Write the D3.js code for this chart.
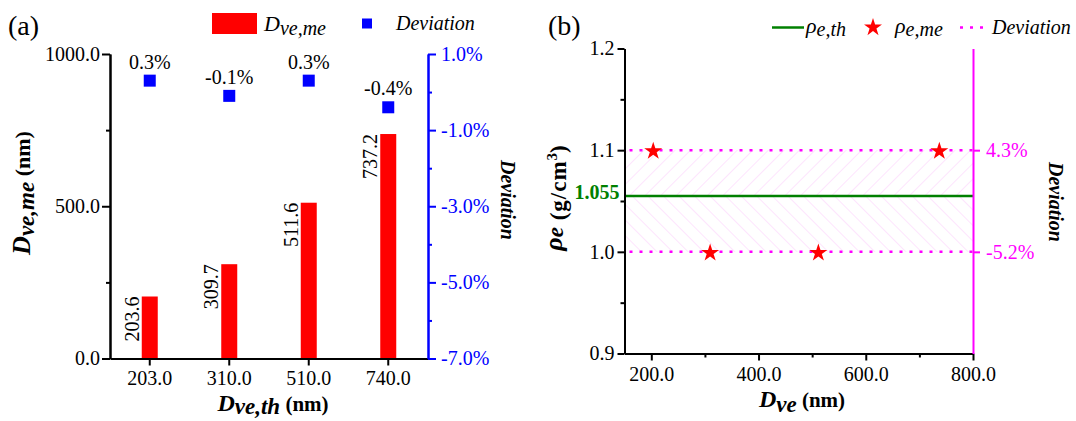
<!DOCTYPE html>
<html>
<head>
<meta charset="utf-8">
<script src="https://cdn.jsdelivr.net/npm/d3@7"></script>
<style>
  body { margin: 0; background: #fff; }
  svg text { font-family: "Liberation Serif", "Times New Roman", serif; }
</style>
</head>
<body>
<div id="chart"></div>
<script>
// panel (a)
const categories = ["203.0", "310.0", "510.0", "740.0"];
const dveMe = [203.6, 309.7, 511.6, 737.2];
const deviationA = [0.3, -0.1, 0.3, -0.4];
const leftTicksA = [0, 500, 1000];
const leftMinorA = [250, 750];
const rightTicksA = [1, -1, -3, -5, -7];
const rightMinorA = [0, -2, -4, -6];

// panel (b)
const dveB = [203.6, 309.7, 511.6, 737.2];
const rhoMe = [1.1, 1.0, 1.0, 1.1];
const rhoTh = 1.055;
const devLevels = [1.1, 1.0];
const devLabels = ["4.3%", "-5.2%"];
const xTicksB = [200, 400, 600, 800];
const xMinorB = [300, 500, 700];
const yTicksB = [0.9, 1.0, 1.1, 1.2];
const yMinorB = [0.95, 1.05, 1.15];

const W = 1076, H = 421;
const blue = "#0000ff", magenta = "#ff00ff", green = "#008000", red = "#ff0000";
const serif = '"Liberation Serif", "Times New Roman", serif';

const svg = d3.select("#chart").append("svg")
    .attr("width", W).attr("height", H);

function styleAxis(g, color) {
    g.selectAll("path").attr("stroke", color).attr("stroke-width", 2);
    g.selectAll("line").attr("stroke", color).attr("stroke-width", 2);
    g.selectAll("text").attr("font-size", 20).attr("fill", color)
        .style("font-family", serif);
}

// ---------- panel (a) ----------
const a = {left: 110, right: 428, top: 54, bottom: 358.5};

const xA = d3.scaleBand().domain(categories).range([a.left, a.right]);
const yA = d3.scaleLinear().domain([0, 1000]).range([a.bottom, a.top]);
const yDev = d3.scaleLinear().domain([-7, 1]).range([a.bottom, a.top]);

const gA = svg.append("g");

// bars
gA.selectAll("rect.bar")
    .data(dveMe)
    .enter()
    .append("rect")
    .attr("class", "bar")
    .attr("x", (d, i) => xA(categories[i]) + xA.bandwidth() / 2 - 8)
    .attr("width", 16)
    .attr("y", d => yA(d))
    .attr("height", d => yA(0) - yA(d))
    .attr("fill", red);

// bar value labels (rotated)
gA.selectAll("text.val")
    .data(dveMe)
    .enter()
    .append("text")
    .attr("class", "val")
    .attr("transform", (d, i) => "translate(" + (xA(categories[i]) + xA.bandwidth() / 2 - 11) + "," + yA(d) + ") rotate(-90)")
    .attr("text-anchor", "end")
    .attr("font-size", 20)
    .text(d => d.toFixed(1));

// deviation squares
gA.selectAll("rect.dev")
    .data(deviationA)
    .enter()
    .append("rect")
    .attr("class", "dev")
    .attr("x", (d, i) => xA(categories[i]) + xA.bandwidth() / 2 - 6)
    .attr("y", d => yDev(d) - 6)
    .attr("width", 12).attr("height", 12)
    .attr("fill", blue);

gA.selectAll("text.devlab")
    .data(deviationA)
    .enter()
    .append("text")
    .attr("class", "devlab")
    .attr("x", (d, i) => xA(categories[i]) + xA.bandwidth() / 2)
    .attr("y", d => yDev(d) - 12)
    .attr("text-anchor", "middle")
    .attr("font-size", 20)
    .text(d => d.toFixed(1) + "%");

// axes
gA.append("g")
    .attr("transform", "translate(" + a.left + ",0)")
    .call(d3.axisLeft(yA).tickValues(leftTicksA).tickSize(8).tickSizeOuter(0).tickPadding(2).tickFormat(d3.format(".1f")))
    .call(g => styleAxis(g, "#000"));
gA.append("g")
    .attr("transform", "translate(" + a.left + ",0)")
    .call(d3.axisLeft(yA).tickValues(leftMinorA).tickSize(4).tickSizeOuter(0).tickFormat(""))
    .call(g => styleAxis(g, "#000"));

gA.append("g")
    .attr("transform", "translate(0," + a.bottom + ")")
    .call(d3.axisBottom(xA).tickSize(7).tickSizeOuter(0).tickPadding(5))
    .call(g => styleAxis(g, "#000"));

gA.append("g")
    .attr("transform", "translate(" + a.right + ",0)")
    .call(d3.axisRight(yDev).tickValues(rightTicksA).tickSize(8).tickSizeOuter(0).tickPadding(5).tickFormat(d => d.toFixed(1) + "%"))
    .call(g => styleAxis(g, blue));
gA.append("g")
    .attr("transform", "translate(" + a.right + ",0)")
    .call(d3.axisRight(yDev).tickValues(rightMinorA).tickSize(4).tickSizeOuter(0).tickFormat(""))
    .call(g => styleAxis(g, blue));

// axis titles
const yTitleA = gA.append("text")
    .attr("transform", "translate(30,193) rotate(-90)")
    .attr("text-anchor", "middle")
    .attr("font-weight", "bold");
yTitleA.append("tspan").attr("font-style", "italic").attr("font-size", 26).text("D");
yTitleA.append("tspan").attr("font-style", "italic").attr("font-size", 23).attr("dy", 4).text("ve,me");
yTitleA.append("tspan").attr("font-size", 22).attr("dy", -4).text(" (nm)");

const xTitleA = gA.append("text")
    .attr("x", 273).attr("y", 411)
    .attr("text-anchor", "middle")
    .attr("font-weight", "bold");
xTitleA.append("tspan").attr("font-style", "italic").attr("font-size", 24).text("D");
xTitleA.append("tspan").attr("font-style", "italic").attr("font-size", 23).attr("dy", 3).text("ve,th");
xTitleA.append("tspan").attr("font-size", 21).attr("dy", -3).text(" (nm)");

gA.append("text")
    .attr("transform", "translate(501,200) rotate(90)")
    .attr("text-anchor", "middle")
    .attr("font-weight", "bold").attr("font-style", "italic")
    .attr("font-size", 20)
    .text("Deviation");

// legend (a)
gA.append("rect").attr("x", 212).attr("y", 13).attr("width", 45).attr("height", 21).attr("fill", red);
const legA = gA.append("text").attr("x", 264).attr("y", 31).attr("font-style", "italic");
legA.append("tspan").attr("font-size", 22).text("D");
legA.append("tspan").attr("font-size", 20).attr("dy", 4).text("ve,me");
gA.append("rect").attr("x", 362).attr("y", 18.5).attr("width", 10).attr("height", 10).attr("fill", blue);
gA.append("text").attr("x", 396).attr("y", 29.5).attr("font-style", "italic").attr("font-size", 20).text("Deviation");

gA.append("text").attr("x", 8).attr("y", 35).attr("font-size", 28).text("(a)");

// ---------- panel (b) ----------
const b = {left: 624.5, right: 973, top: 48.5, bottom: 353.5};
const xB = d3.scaleLinear().domain([150, 800]).range([b.left, b.right]);
const yB = d3.scaleLinear().domain([0.9, 1.2]).range([b.bottom, b.top]);

const gB = svg.append("g");

// hatch patterns: "/" above the theoretical line, "\" below it
const defs = svg.append("defs");
[["hatchUp", 45], ["hatchDown", -45]].forEach(([id, ang]) => {
    defs.append("pattern")
        .attr("id", id)
        .attr("patternUnits", "userSpaceOnUse")
        .attr("width", 11).attr("height", 11)
        .attr("patternTransform", "rotate(" + ang + ")")
      .append("line")
        .attr("x1", 0).attr("y1", 0).attr("x2", 0).attr("y2", 11)
        .attr("stroke", "#fbd2fb").attr("stroke-width", 1.2);
});

gB.append("rect")
    .attr("x", xB(150)).attr("y", yB(devLevels[0]))
    .attr("width", xB(800) - xB(150))
    .attr("height", yB(rhoTh) - yB(devLevels[0]))
    .attr("fill", "url(#hatchUp)");
gB.append("rect")
    .attr("x", xB(150)).attr("y", yB(rhoTh))
    .attr("width", xB(800) - xB(150))
    .attr("height", yB(devLevels[1]) - yB(rhoTh))
    .attr("fill", "url(#hatchDown)");

// deviation dotted lines
gB.selectAll("line.devline")
    .data(devLevels)
    .enter()
    .append("line")
    .attr("class", "devline")
    .attr("x1", xB(150) + 5).attr("x2", xB(800))
    .attr("y1", d => yB(d)).attr("y2", d => yB(d))
    .attr("stroke", magenta).attr("stroke-width", 2.5)
    .attr("stroke-dasharray", "3,7");

// theoretical line
gB.append("line")
    .attr("x1", xB(150)).attr("x2", xB(800))
    .attr("y1", yB(rhoTh)).attr("y2", yB(rhoTh))
    .attr("stroke", green).attr("stroke-width", 2.5);

gB.append("text")
    .attr("x", xB(150) - 5).attr("y", yB(rhoTh) + 3)
    .attr("text-anchor", "end")
    .attr("font-weight", "bold").attr("font-size", 20)
    .attr("fill", green)
    .text(rhoTh.toFixed(3));

// stars
const star = d3.symbol().type(d3.symbolStar).size(100);
gB.selectAll("path.star")
    .data(rhoMe)
    .enter()
    .append("path")
    .attr("class", "star")
    .attr("transform", (d, i) => "translate(" + xB(dveB[i]) + "," + (yB(d) + 1) + ")")
    .attr("d", star)
    .attr("fill", red);

// axes
gB.append("g")
    .attr("transform", "translate(" + b.left + ",0)")
    .call(d3.axisLeft(yB).tickValues(yTicksB).tickSize(7).tickSizeOuter(0).tickPadding(3).tickFormat(d3.format(".1f")))
    .call(g => styleAxis(g, "#000"));
gB.append("g")
    .attr("transform", "translate(" + b.left + ",0)")
    .call(d3.axisLeft(yB).tickValues(yMinorB).tickSize(4).tickSizeOuter(0).tickFormat(""))
    .call(g => styleAxis(g, "#000"));

gB.append("g")
    .attr("transform", "translate(0," + b.bottom + ")")
    .call(d3.axisBottom(xB).tickValues(xTicksB).tickSize(7).tickSizeOuter(0).tickPadding(6).tickFormat(d3.format(".1f")))
    .call(g => styleAxis(g, "#000"));
gB.append("g")
    .attr("transform", "translate(0," + b.bottom + ")")
    .call(d3.axisBottom(xB).tickValues(xMinorB).tickSize(4).tickSizeOuter(0).tickFormat(""))
    .call(g => styleAxis(g, "#000"));

gB.append("g")
    .attr("transform", "translate(" + b.right + ",0)")
    .call(d3.axisRight(yB).tickValues(devLevels).tickSize(7).tickSizeOuter(0).tickPadding(6).tickFormat((d, i) => devLabels[i]))
    .call(g => styleAxis(g, magenta));

// titles
const yTitleB = gB.append("text")
    .attr("transform", "translate(566,198) rotate(-90)")
    .attr("text-anchor", "middle")
    .attr("font-weight", "bold");
yTitleB.append("tspan").attr("font-style", "italic").attr("font-size", 26).attr("dy", -4).text("ρ");
yTitleB.append("tspan").attr("font-style", "italic").attr("font-size", 23).attr("dy", 1).text("e");
yTitleB.append("tspan").attr("font-size", 23).attr("dy", 3).attr("letter-spacing", 1).text(" (g/cm");
yTitleB.append("tspan").attr("font-size", 15).attr("dy", -9).text("3");
yTitleB.append("tspan").attr("font-size", 23).attr("dy", 9).text(")");

const xTitleB = gB.append("text")
    .attr("x", 802).attr("y", 407)
    .attr("text-anchor", "middle")
    .attr("font-weight", "bold");
xTitleB.append("tspan").attr("font-style", "italic").attr("font-size", 24).text("D");
xTitleB.append("tspan").attr("font-style", "italic").attr("font-size", 23).attr("dy", 5).text("ve");
xTitleB.append("tspan").attr("font-size", 21).attr("dy", -5).text(" (nm)");

gB.append("text")
    .attr("transform", "translate(1049,202) rotate(90)")
    .attr("text-anchor", "middle")
    .attr("font-weight", "bold").attr("font-style", "italic")
    .attr("font-size", 20)
    .text("Deviation");

// legend (b)
gB.append("line").attr("x1", 772).attr("x2", 804).attr("y1", 27.5).attr("y2", 27.5)
    .attr("stroke", green).attr("stroke-width", 2.5);
const legB1 = gB.append("text").attr("x", 806).attr("y", 33).attr("font-style", "italic");
legB1.append("tspan").attr("font-size", 22).text("ρ");
legB1.append("tspan").attr("font-size", 20).attr("dy", 3).text("e,th");
gB.append("path").attr("transform", "translate(873,27.5)").attr("d", star).attr("fill", red);
const legB2 = gB.append("text").attr("x", 895).attr("y", 33).attr("font-style", "italic");
legB2.append("tspan").attr("font-size", 22).text("ρ");
legB2.append("tspan").attr("font-size", 20).attr("dy", 3).text("e,me");
gB.append("line").attr("x1", 960).attr("x2", 990).attr("y1", 27.5).attr("y2", 27.5)
    .attr("stroke", magenta).attr("stroke-width", 2.5).attr("stroke-dasharray", "3,7");
gB.append("text").attr("x", 992).attr("y", 34).attr("font-style", "italic").attr("font-size", 20).text("Deviation");

gB.append("text").attr("x", 548).attr("y", 35).attr("font-size", 28).text("(b)");
</script>
</body>
</html>
